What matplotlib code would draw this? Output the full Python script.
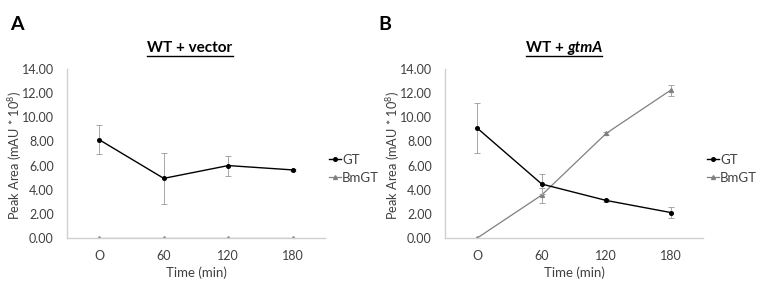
import matplotlib
matplotlib.use("Agg")
import matplotlib.pyplot as plt
from matplotlib.lines import Line2D

plt.rcParams['font.family'] = ['Lato', 'DejaVu Sans']
plt.rcParams['mathtext.fontset'] = 'custom'
plt.rcParams['mathtext.rm'] = 'Lato'

categories = ["O", "60", "120", "180"]
yticks = [0, 2, 4, 6, 8, 10, 12, 14]

a_gt = [8.14, 4.94, 6.00, 5.64]
a_gt_err = [1.18, 2.13, 0.83, 0.10]
a_bm = [0.0, 0.0, 0.0, 0.0]
a_bm_err = [0.0, 0.0, 0.0, 0.0]

b_gt = [9.10, 4.47, 3.11, 2.11]
b_gt_err = [2.05, 0.85, 0.10, 0.48]
b_bm = [0.0, 3.56, 8.67, 12.25]
b_bm_err = [0.0, 0.62, 0.10, 0.45]

W, H = 759, 293
fig = plt.figure(figsize=(W / 100, H / 100), dpi=100)

def fx(px):
    return px / W

def fy(py):
    return 1 - py / H

tick_color = '#404040'
axis_color = '#d0d0d0'
gt_color = '#000000'
bm_color = '#808080'
err_color = '#a6a6a6'
fs = 9.5
tfs = 9.0

def panel(left_px, right_px, gt, gt_err, bm, bm_err):
    top_px, bottom_px = 69, 238
    ax = fig.add_axes([fx(left_px), fy(bottom_px), fx(right_px - left_px), (bottom_px - top_px) / H])
    x = list(range(len(categories)))
    ax.errorbar(x, gt, yerr=gt_err, color=gt_color, lw=1.0, marker='o', ms=2.6,
                ecolor=err_color, elinewidth=0.7, capsize=2, capthick=0.7, label='GT', zorder=3)
    ax.errorbar(x, bm, yerr=bm_err, color=bm_color, lw=0.9, marker='^', ms=2.8,
                ecolor=err_color, elinewidth=0.7, capsize=2, capthick=0.7, label='BmGT', zorder=2)
    ax.set_xlim(-0.5, 3.5)
    ax.set_ylim(0, 14)
    ax.set_xticks(x)
    ax.set_xticklabels(categories)
    ax.set_yticks(yticks)
    ax.set_yticklabels([f"{v:.2f}" for v in yticks])
    ax.tick_params(length=0, labelsize=tfs, colors=tick_color)
    ax.tick_params(axis='y', pad=9.5)
    ax.tick_params(axis='x', pad=9)
    for s in ['top', 'right']:
        ax.spines[s].set_visible(False)
    for s in ['left', 'bottom']:
        ax.spines[s].set_color(axis_color)
        ax.spines[s].set_linewidth(1.0)
    ax.patch.set_alpha(0)
    ax.set_xlabel('Time (min)', fontsize=fs, color=tick_color, labelpad=3)
    ax.set_ylabel('Peak Area (mAU * 10$^{8}$)', fontsize=9.2, color=tick_color,
                  va='center', ha='center')
    ax.yaxis.set_label_coords(-52 / (right_px - left_px),
                              (bottom_px - 155) / (bottom_px - top_px))
    handles = [Line2D([], [], color=gt_color, marker='o', ms=2.6, lw=1.0),
               Line2D([], [], color=bm_color, marker='^', ms=2.8, lw=0.9)]
    leg = fig.legend(handles, ['GT', 'BmGT'], loc='upper left',
                     bbox_to_anchor=(fx(right_px + 4), fy(154)), frameon=False,
                     handlelength=0.9, handletextpad=0.1, labelspacing=0.45,
                     fontsize=fs, borderpad=0, borderaxespad=0)
    for t in leg.get_texts():
        t.set_color(tick_color)
    return ax

axA = panel(67, 325, a_gt, a_gt_err, a_bm, a_bm_err)
axB = panel(445, 703, b_gt, b_gt_err, b_bm, b_bm_err)

fig.text(fx(10), fy(25), 'A', fontsize=14, fontweight='bold', va='center', ha='left')
fig.text(fx(378), fy(25), 'B', fontsize=14, fontweight='bold', va='center', ha='left')

fig.canvas.draw()
r = fig.canvas.get_renderer()

def underline(texts):
    bbs = [t.get_window_extent(r) for t in texts]
    x0 = min(b.x0 for b in bbs)
    x1 = max(b.x1 for b in bbs)
    y = min(b.y0 for b in bbs) - 1
    fig.add_artist(Line2D([x0 / W, x1 / W], [y / H, y / H], color='black', lw=1.0,
                          transform=fig.transFigure))

tA = fig.text(fx(190), fy(48), 'WT + vector', fontsize=11, fontweight='bold', ha='center', va='center')
underline([tA])

t1 = fig.text(fx(0), fy(48), 'WT + ', fontsize=11, fontweight='bold', ha='left', va='center')
t2 = fig.text(fx(0), fy(48), 'gtmA', fontsize=11, fontweight='bold', style='italic', ha='left', va='center')
fig.canvas.draw()
w1 = t1.get_window_extent(r).width
w2 = t2.get_window_extent(r).width
start = 564 - (w1 + w2) / 2
t1.set_x(start / W)
t2.set_x((start + w1) / W)
fig.canvas.draw()
underline([t1, t2])

fig.savefig('out.png', dpi=100)
